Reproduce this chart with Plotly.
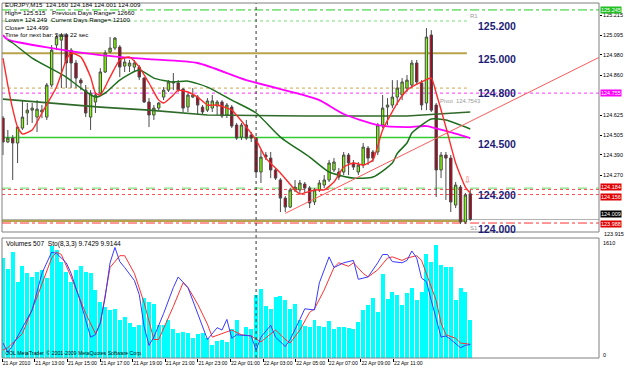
import plotly.graph_objects as go

# ---------------- data ----------------
bars = list(range(97))
opens = [124.607,124.466,124.489,124.460,124.548,124.637,124.654,124.613,124.643,124.613,
         124.802,125.038,125.067,125.097,125.008,124.932,124.831,124.772,124.613,124.702,
         124.755,124.879,124.997,125.020,125.026,124.914,124.914,124.908,124.908,124.843,
         124.702,124.625,124.666,124.731,124.772,124.814,124.814,124.778,124.672,124.731,
         124.731,124.672,124.654,124.666,124.678,124.702,124.625,124.672,124.566,124.495,
         124.566,124.507,124.489,124.289,124.389,124.371,124.301,124.242,124.135,124.082,
         124.183,124.183,124.218,124.194,124.112,124.183,124.212,124.242,124.301,124.289,
         124.289,124.389,124.342,124.289,124.330,124.430,124.407,124.407,124.566,124.672,
         124.684,124.731,124.743,124.784,124.802,124.932,124.814,124.696,125.097,124.684,
         124.301,124.389,124.371,124.094,124.200,123.994,124.160]
highs = [124.619,124.537,124.507,124.554,124.713,124.696,124.696,124.713,124.684,124.814,
         125.038,125.097,125.109,125.109,125.020,124.950,124.843,124.802,124.772,124.761,
         124.902,125.008,125.085,125.085,125.038,124.961,124.950,124.950,124.920,124.849,
         124.725,124.684,124.702,124.790,124.831,124.873,124.831,124.784,124.755,124.784,
         124.743,124.684,124.725,124.743,124.713,124.713,124.696,124.684,124.578,124.578,
         124.596,124.525,124.495,124.419,124.407,124.407,124.312,124.253,124.147,124.194,
         124.242,124.242,124.230,124.206,124.194,124.242,124.271,124.360,124.371,124.312,
         124.407,124.401,124.360,124.348,124.460,124.442,124.419,124.578,124.743,124.725,
         124.831,124.831,124.843,124.861,124.950,124.950,124.831,125.138,125.126,124.696,
         124.407,124.407,124.389,124.230,124.212,124.165,124.184]
lows = [124.389,124.460,124.242,124.342,124.537,124.566,124.578,124.525,124.607,124.596,
        124.790,125.008,124.784,124.784,124.784,124.784,124.772,124.613,124.537,124.637,
        124.743,124.873,124.991,125.008,124.849,124.879,124.879,124.879,124.831,124.696,
        124.554,124.596,124.654,124.713,124.761,124.772,124.761,124.643,124.643,124.725,
        124.625,124.625,124.643,124.643,124.625,124.607,124.607,124.548,124.478,124.478,
        124.478,124.466,124.271,124.224,124.360,124.253,124.242,124.053,124.053,124.076,
        124.171,124.165,124.165,124.076,124.094,124.171,124.194,124.230,124.289,124.242,
        124.271,124.271,124.301,124.271,124.312,124.330,124.348,124.389,124.548,124.566,
        124.666,124.684,124.713,124.761,124.784,124.802,124.654,124.654,124.643,124.141,
        124.253,124.124,124.053,124.076,123.982,123.982,124.001]
closes = [124.466,124.489,124.460,124.554,124.613,124.654,124.666,124.660,124.654,124.802,
          125.008,125.085,125.097,124.932,124.932,124.843,124.814,124.637,124.755,124.743,
          124.879,124.991,125.020,125.079,124.908,124.938,124.932,124.932,124.849,124.702,
          124.625,124.666,124.696,124.772,124.820,124.820,124.772,124.666,124.743,124.743,
          124.684,124.643,124.708,124.708,124.702,124.619,124.684,124.560,124.489,124.566,
          124.489,124.489,124.289,124.377,124.377,124.301,124.253,124.135,124.082,124.183,
          124.200,124.224,124.194,124.106,124.183,124.224,124.242,124.342,124.348,124.259,
          124.389,124.342,124.318,124.330,124.436,124.371,124.371,124.566,124.666,124.684,
          124.731,124.784,124.820,124.831,124.932,124.820,124.684,125.085,124.654,124.301,
          124.389,124.371,124.112,124.212,123.994,124.153,124.009]
volumes = [1342,1194,1422,1020,1235,1141,1087,1154,1181,1074,
           1503,1449,1288,1154,1020,1181,1235,1154,1141,913,
           752,684,644,658,510,550,470,416,443,805,
           752,725,443,443,510,389,336,349,336,268,
           322,336,268,174,228,242,215,389,510,309,
           416,389,845,926,698,658,819,832,778,658,
           725,510,429,416,510,429,416,497,389,416,
           416,403,389,483,644,711,805,617,1127,792,
           886,845,711,872,939,778,886,1396,1288,1516,
           1248,1221,1221,778,939,886,507]

# moving averages (bar index, value)
ma_fast_bar = [0,1,2,3,4,6,8,11,13,14,16,18,19,20,22,24,26,28,30,32,33,35,36,38,40,42,44,47,50,52,
               54,57,60,61,64,66,68,70,72,74,76,78,81,83,86,88,89,91,93,95,96]
ma_fast_val = [124.961,124.80,124.66,124.554,124.513,124.537,124.637,124.790,124.950,124.991,124.967,
               124.849,124.755,124.743,124.849,124.950,124.967,124.908,124.814,124.713,124.696,
               124.743,124.772,124.761,124.731,124.684,124.684,124.654,124.554,124.478,124.371,
               124.283,124.183,124.159,124.183,124.183,124.230,124.318,124.342,124.330,124.360,
               124.537,124.696,124.772,124.820,124.843,124.755,124.554,124.342,124.200,124.165]
ma_mid_bar = [1,2,6,13,16,19,21,24,28,31,35,38,42,47,52,57,63,67,72,76,80,81,83,84,86,88,91,96]
ma_mid_val = [125.067,125.050,124.961,124.849,124.784,124.731,124.755,124.831,124.890,124.843,
              124.820,124.825,124.790,124.713,124.637,124.495,124.377,124.289,124.253,124.259,
              124.342,124.398,124.460,124.519,124.566,124.602,124.596,124.543]
ma_long_bar = [0,20,30,42,62,83,96]
ma_long_val = [124.719,124.672,124.654,124.625,124.619,124.619,124.643]
ma_slow_bar = [0,1,10,20,30,40,50,61,65,70,77,83,87,91,96]
ma_slow_val = [125.097,125.070,125.020,124.979,124.955,124.932,124.831,124.749,124.713,124.631,
               124.566,124.554,124.560,124.531,124.489]

sto_main_bar = [0,1,2,6,8,10,11,13,14,16,18,19,20,21,22,23,24,25,27,28,29,30,31,33,35,36,38,39,40,42,
                44,45,46,47,48,51,52,53,55,56,58,59,61,62,64,65,67,68,70,72,73,75,77,78,79,80,82,83,84,85,
                86,87,88,89,90,91,92,94,95,96]
sto_main_val = [11,3,9,39,70,88,87,79,70,45,16,18,28,50,79,92,80,75,64,52,25,9,16,36,58,67,58,47,35,14,
                24,22,31,15,18,17,5,16,26,16,8,14,31,40,39,62,84,75,79,81,65,67,79,86,86,80,79,81,89,83,
                66,63,47,31,16,17,14,7,9,9.7429]
sto_sig_bar = [0,1,4,7,10,11,12,14,17,19,20,22,24,25,27,29,31,32,35,37,38,40,42,43,45,47,49,51,53,56,
               58,59,61,63,64,66,68,69,71,72,74,75,77,79,80,82,83,85,86,87,89,90,91,93,94,96]
sto_sig_val = [5,7,19,50,83,88,86,67,36,19,28,75,85,85,70,45,14,14,42,62,58,44,27,16,19,22,18,17,12,22,
               14,11,22,37,40,56,75,79,76,79,70,67,73,83,84,81,83,85,81,70,47,28,18,15,11,9.9144]

trend_bar = [58, 122.45]
trend_val = [124.045, 124.965]

round_levels = [125.200, 125.000, 124.800, 124.500, 124.200, 124.000]
price_ticks = [125.215, 125.095, 124.980, 124.860, 124.625, 124.505, 124.390, 124.270]
time_labels = ["21 Apr 2010", "21 Apr 13:00", "21 Apr 15:00", "21 Apr 17:00", "21 Apr 19:00",
               "21 Apr 21:00", "21 Apr 23:00", "22 Apr 01:00", "22 Apr 03:00", "22 Apr 05:00",
               "22 Apr 07:00", "22 Apr 09:00", "22 Apr 11:00"]
time_label_step = 6.7   # bars between time labels on the axis

# horizontal levels
lvl_green_top = 125.245
lvl_r1 = 125.18
lvl_gold_hi = 124.99
lvl_gold_dot = 124.784
lvl_pivot = 124.7543
lvl_green = 124.492
lvl_green_dot = 124.194
lvl_red_a = 124.186
lvl_red_b = 124.156
lvl_bid = 124.009
lvl_gold_lo = 124.000
lvl_red_dd = 123.988
sep_bar = 52
pivot_end_bar = 95.3

# ---------------- figure ----------------
W, H = 625, 370
ML, MR, MT, MB = 2, 22, 3, 12
def px(x):
    return (x - ML) / (W - ML - MR)
def py(y):
    return (H - MB - y) / (H - MT - MB)

XR = [-0.2, 122.45]
YR = [123.935, 125.286]
main_dom = [py(232), 1]
low_dom = [0, py(238)]

fig = go.Figure()

fig.add_trace(go.Candlestick(
    x=bars, open=opens, high=highs, low=lows, close=closes,
    increasing=dict(line=dict(color="#4a4a4a", width=1), fillcolor="#7cff00"),
    decreasing=dict(line=dict(color="#4a4a4a", width=1), fillcolor="#b3001b"),
    whiskerwidth=0, showlegend=False, hoverinfo="skip", xaxis="x", yaxis="y"))

fig.add_trace(go.Scatter(x=ma_long_bar, y=ma_long_val, mode="lines",
                         line=dict(color="#2f6a2a", width=1.6), hoverinfo="skip", showlegend=False))
fig.add_trace(go.Scatter(x=ma_slow_bar, y=ma_slow_val, mode="lines",
                         line=dict(color="#ff00ff", width=1.8, shape="spline", smoothing=0.6),
                         hoverinfo="skip", showlegend=False))
fig.add_trace(go.Scatter(x=ma_mid_bar, y=ma_mid_val, mode="lines",
                         line=dict(color="#1e6e1e", width=1.5, shape="spline", smoothing=0.6),
                         hoverinfo="skip", showlegend=False))
fig.add_trace(go.Scatter(x=ma_fast_bar, y=ma_fast_val, mode="lines",
                         line=dict(color="#ff2a2a", width=1.4, shape="spline", smoothing=0.5),
                         hoverinfo="skip", showlegend=False))
fig.add_trace(go.Scatter(x=trend_bar, y=trend_val, mode="lines",
                         line=dict(color="#ff5a5a", width=1), hoverinfo="skip", showlegend=False))

# lower window
fig.add_trace(go.Bar(x=bars, y=volumes, width=0.82, marker=dict(color="#00ffff", line=dict(width=0)),
                     xaxis="x2", yaxis="y2", hoverinfo="skip", showlegend=False))
fig.add_trace(go.Scatter(x=sto_sig_bar, y=sto_sig_val, mode="lines", line=dict(color="#ff3030", width=1),
                         xaxis="x2", yaxis="y3", hoverinfo="skip", showlegend=False))
fig.add_trace(go.Scatter(x=sto_main_bar, y=sto_main_val, mode="lines", line=dict(color="#3a3aff", width=1),
                         xaxis="x2", yaxis="y3", hoverinfo="skip", showlegend=False))

shapes = []
def hline(y, color, dash, width, x1=None):
    if x1 is None:
        shapes.append(dict(type="line", xref="x domain", yref="y", x0=0, x1=1, y0=y, y1=y,
                           line=dict(color=color, dash=dash, width=width), layer="below"))
    else:
        shapes.append(dict(type="line", xref="x", yref="y", x0=XR[0], x1=x1, y0=y, y1=y,
                           line=dict(color=color, dash=dash, width=width), layer="below"))

hline(lvl_green_top, "#22cc22", "dashdot", 1)
hline(lvl_r1, "#77dd77", "dot", 1, pivot_end_bar)
hline(lvl_gold_hi, "#b8a24a", "solid", 2, pivot_end_bar)
hline(lvl_gold_dot, "#c9a84e", "dot", 1, pivot_end_bar)
hline(lvl_pivot, "#ff33ff", "dot", 1)
hline(lvl_green, "#33cc33", "solid", 1.5, pivot_end_bar)
hline(lvl_green_dot, "#66dd66", "dash", 1)
hline(lvl_red_a, "#ff4a4a", "dot", 1)
hline(lvl_red_b, "#ff4a4a", "dot", 1)
hline(lvl_bid, "#b0b0b0", "solid", 1)
hline(lvl_gold_lo, "#b8a24a", "solid", 2, pivot_end_bar)
hline(lvl_red_dd, "#ff3030", "dashdot", 1)

shapes.append(dict(type="line", xref="x", yref="paper", x0=sep_bar, x1=sep_bar, y0=0, y1=1,
                   line=dict(color="#333333", dash="dot", width=1), layer="above"))
# window frames
for dom in (main_dom, low_dom):
    shapes.append(dict(type="rect", xref="paper", yref="paper", x0=0, x1=1, y0=dom[0], y1=dom[1],
                       line=dict(color="#808080", width=1), fillcolor="rgba(0,0,0,0)", layer="above"))

ann = []
FN = "Liberation Sans"
for lv in round_levels:
    ann.append(dict(x=101.5, y=lv, xref="x", yref="y", text=f"{lv:.3f}", showarrow=False,
                    xanchor="center", yanchor="top", yshift=0,
                    font=dict(family=FN, size=10.5, color="#1c1c78", weight="bold")))

header = [("EURJPY,M15  124.160 124.184 124.001 124.009", 3, 5, 6.2),
          ("High= 125.515", 3, 12.5, 6.2), ("Previous Days Range= 12660", 50, 12.5, 6.2),
          ("Lows= 124.249", 3, 19.8, 6.2), ("Current Days Range= 12100", 49, 19.8, 6.2),
          ("Close= 124.499", 3, 27, 6.2), ("Time for next bar: 5min 22 sec", 3, 34.3, 6.2),
          ("Volumes 507  Sto(8,3,3) 9.7429 9.9144", 4, 244, 6.6),
          ("OOL MetaTrader, © 2001-2009 MetaQuotes Software Corp.", 3, 353, 5.2)]
for t, x, y, s in header:
    ann.append(dict(x=px(x), y=py(y), xref="paper", yref="paper", text=t, showarrow=False,
                    xanchor="left", yanchor="middle", font=dict(family=FN, size=s, color="#000000")))

ann.append(dict(x=px(441), y=py(101), xref="paper", yref="paper", text="Pivot  124.7543", showarrow=False,
                xanchor="left", yanchor="middle", font=dict(family=FN, size=5.8, color="#9a9a9a")))
ann.append(dict(x=95.5, y=lvl_r1, xref="x", yref="y", text="R1", showarrow=False,
                xanchor="left", yanchor="bottom", font=dict(family=FN, size=6, color="#9a9a9a")))
ann.append(dict(x=95.5, y=lvl_red_dd, xref="x", yref="y", text="S1", showarrow=False,
                xanchor="left", yanchor="top", font=dict(family=FN, size=6, color="#9a9a9a")))
ann.append(dict(x=95.6, y=124.241, xref="x", yref="y", text="⇩", showarrow=False,
                xanchor="center", yanchor="middle", font=dict(family="DejaVu Sans", size=9, color="#ff6a6a")))

boxes = [(lvl_green_top, "125.245", "#22c022", 0), (lvl_pivot, "124.755", "#ff00ff", 0),
         (lvl_red_a, "124.184", "#e00000", 2), (lvl_red_b, "124.156", "#e00000", -2),
         (lvl_bid, "124.009", "#000000", 5), (lvl_red_dd, "123.988", "#e00000", -1)]
for y, t, c, sh in boxes:
    ann.append(dict(x=1, y=y, xref="paper", yref="y", text=t, showarrow=False, xanchor="left",
                    yanchor="middle", xshift=1, yshift=sh, bgcolor=c, borderpad=0,
                    font=dict(family=FN, size=5.5, color="#ffffff")))
ann.append(dict(x=1, y=py(233.5), xref="paper", yref="paper", text="123.915", showarrow=False,
                xanchor="left", yanchor="middle", xshift=3, font=dict(family=FN, size=5.5, color="#000000")))
ann.append(dict(x=1, y=py(243), xref="paper", yref="paper", text="1610", showarrow=False,
                xanchor="left", yanchor="middle", xshift=2, font=dict(family=FN, size=5.5, color="#000000")))
ann.append(dict(x=1, y=py(355), xref="paper", yref="paper", text="0", showarrow=False,
                xanchor="left", yanchor="middle", xshift=2, font=dict(family=FN, size=5.5, color="#000000")))

tick_pos = [XR[0] + 0.05 + k * time_label_step for k in range(len(time_labels))]

fig.update_layout(
    width=W, height=H, margin=dict(l=ML, r=MR, t=MT, b=MB),
    paper_bgcolor="#ffffff", plot_bgcolor="#ffffff", showlegend=False, bargap=0,
    xaxis=dict(domain=[0, 1], anchor="y", range=XR, showgrid=False, zeroline=False,
               showticklabels=False, rangeslider=dict(visible=False), fixedrange=True),
    xaxis2=dict(domain=[0, 1], anchor="y2", range=XR, matches="x", showgrid=False, zeroline=False,
                tickvals=tick_pos, ticktext=time_labels, ticks="outside", ticklen=3, tickcolor="#000",
                tickangle=0, ticklabelposition="outside right",
                tickfont=dict(family=FN, size=5.1, color="#000000"), showline=False),
    yaxis=dict(domain=main_dom, anchor="x", range=YR, side="right", showgrid=False, zeroline=False,
               tickvals=price_ticks, ticktext=[f"{v:.3f}" for v in price_ticks], ticks="outside",
               ticklen=2, tickcolor="#000", tickfont=dict(family=FN, size=5.5, color="#000000"),
               showline=False),
    yaxis2=dict(domain=low_dom, anchor="x2", range=[0, 1610], showgrid=False, zeroline=False,
                showticklabels=False, side="right"),
    yaxis3=dict(overlaying="y2", range=[-1.7, 100], showgrid=False, zeroline=False,
                showticklabels=False, side="right"),
    shapes=shapes, annotations=ann, boxgap=0.3,
)

fig.write_html("out.html")
